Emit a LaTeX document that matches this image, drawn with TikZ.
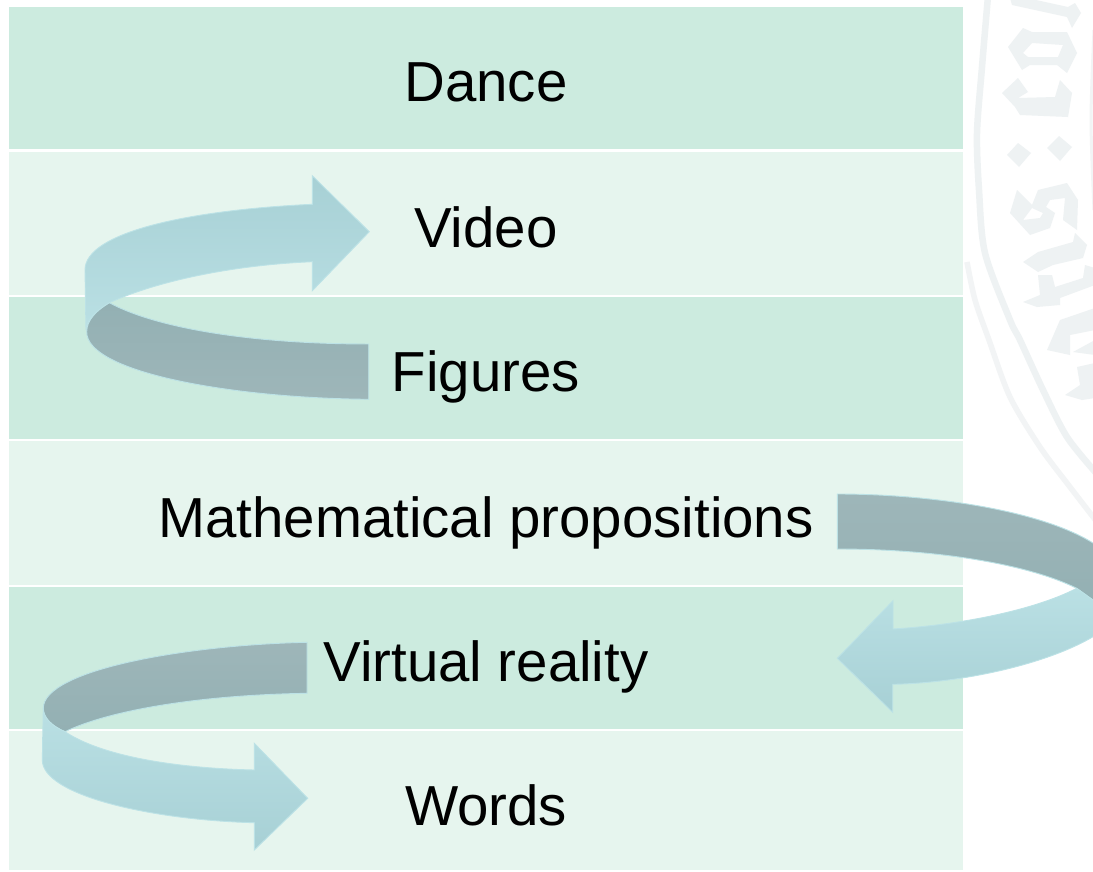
\documentclass[tikz,border=0pt]{standalone}
\usepackage{fontspec}
\setmainfont{Liberation Sans}
\definecolor{rowdark}{HTML}{CCEBDF}
\definecolor{rowlight}{HTML}{E6F5EE}
\definecolor{sealink}{HTML}{EEF2F3}
\definecolor{sealpale}{HTML}{F2F4F5}
\definecolor{ribbonedge}{HTML}{BCE2E6}
\definecolor{lightfar}{HTML}{A7D0D5}
\definecolor{lightfold}{HTML}{BAE0E4}
\definecolor{darkfar}{HTML}{9EB6B9}
\definecolor{darkfold}{HTML}{93B0B3}
\tikzset{
  rowbox/.style={draw=none,rectangle,inner sep=0pt,outer sep=0pt,anchor=north west,
    minimum width=954pt,text=black,font=\fontsize{56.4}{60}\selectfont},
  rowA/.style={rowbox,fill=rowdark},
  rowB/.style={rowbox,fill=rowlight},
  lightup/.style={draw=ribbonedge,line width=0.9pt,top color=lightfar,bottom color=lightfold},
  lightdown/.style={draw=ribbonedge,line width=0.9pt,top color=lightfold,bottom color=lightfar},
  darkdown/.style={draw=ribbonedge,line width=0.9pt,top color=darkfar,bottom color=darkfold},
  darkup/.style={draw=ribbonedge,line width=0.9pt,top color=darkfold,bottom color=darkfar},
  sealglyph/.style={fill=sealink,even odd rule},
  sealband/.style={draw=sealink,line width=6.5pt,smooth},
  sealthin/.style={draw=sealpale,line width=5.5pt,smooth}
}
\begin{document}
\begin{tikzpicture}[x=1pt,y=-1pt]
\useasboundingbox (0,0) rectangle (1093,871);
\begin{scope}
\clip (0,0) rectangle (1093,871);
\fill[white] (0,0) rectangle (1093,871);
% seal watermark
\draw[sealband] plot coordinates {(988,-4) (982,67) (977,133) (979,190) (985,253) (1010,320) (1020,340) (1043,390) (1067,437) (1097,474)};
\draw[sealthin] plot coordinates {(967,262) (975,300) (989,340) (1010,397) (1040,447) (1070,487) (1097,522)};
\draw[sealthin,line width=3pt] plot coordinates {(1094,30) (1091,120) (1094,210)};
\fill[sealglyph] (1010,-2) -- (1012,5) -- (1067,17) -- (1072,28) -- (1081,13) -- (1075,3) -- (1068,7) -- (1027,-2) -- cycle;
\fill[sealglyph] (1008,47) -- (1023,28) -- (1032,32) -- (1067,32) -- (1077,53) -- (1067,73) -- (1057,65) -- (1030,65) -- (1022,70) -- cycle
  (1023,53) -- (1032,43) -- (1063,45) -- (1058,57) -- (1028,57) -- cycle;
\fill[sealglyph] (1002,93) -- (1018,78) -- (1028,92) -- (1018,98) -- (1055,97) -- (1060,80) -- (1072,93) -- (1068,117) -- (1020,115) -- (1015,107) -- cycle;
\fill[sealglyph] (1007,155) -- (1018,143) -- (1031,153) -- (1019,167) -- cycle;
\fill[sealglyph] (1047,148) -- (1059,136) -- (1072,147) -- (1060,161) -- cycle;
\fill[sealglyph] (1010,213) -- (1017,190) -- (1032,205) -- (1038,190) -- (1067,183) -- (1078,200) -- (1077,230) -- (1063,220) -- (1065,198) -- (1050,200) -- (1046,207) -- (1055,213) -- (1050,228) -- (1030,235) -- cycle
  (1023,220) -- (1032,208) -- (1043,213) -- (1040,218) -- cycle;
\fill[sealglyph] (1023,262) -- (1038,252) -- (1073,242) -- (1075,233) -- (1087,245) -- (1083,258) -- (1053,265) -- (1038,272) -- cycle;
\fill[sealglyph] (1038,275) -- (1052,275) -- (1055,287) -- (1083,278) -- (1085,265) -- (1095,268) -- (1095,285) -- (1060,298) -- (1060,305) -- (1037,307) -- (1023,302) -- (1040,295) -- cycle;
\fill[sealglyph] (1047,350) -- (1060,320) -- (1095,308) -- (1095,330) -- (1070,335) -- (1070,355) -- cycle;
\fill[sealglyph] (1073,352) -- (1095,340) -- (1095,355) -- cycle;
\fill[sealglyph] (1077,367) -- (1095,363) -- (1095,398) -- (1082,400) -- (1065,395) -- (1080,385) -- cycle;
% rows
\node[rowA,minimum height=142pt,text height=94pt,text depth=48pt] (dance) at (9,7) {Dance};
\node[rowB,minimum height=143pt,text height=95pt,text depth=48pt] (video) at (9,152) {Video};
\node[rowA,minimum height=142pt,text height=94pt,text depth=48pt] (figures) at (9,297) {Figures};
\node[rowB,minimum height=144pt,text height=96pt,text depth=48pt] (math) at (9,441) {Mathematical propositions};
\node[rowA,minimum height=142pt,text height=94pt,text depth=48pt] (virtual) at (9,587) {Virtual reality};
\node[rowB,minimum height=139pt,text height=94pt,text depth=45pt] (words) at (9,731) {Words};
% ribbon: Figures to Video
\path[darkup] (109.3,302.7) .. controls (160,330) and (260,344) .. (368.7,344) -- (368.7,399.3)
  .. controls (230,398) and (86,372) .. (86.7,331.7) .. controls (86.7,320) and (97,310) .. (109.3,302.7) -- cycle;
\path[lightup] (369.3,231.7) -- (312.3,175.7) -- (312.3,204.3) .. controls (190,210) and (85,232) .. (85,270)
  -- (86,330) .. controls (86,320) and (97,310) .. (109.3,302.7)
  .. controls (160,280) and (235,265) .. (312.3,261.7) -- (312.3,290.7) -- cycle;
% ribbon: Mathematical propositions to Virtual reality
\path[darkdown] (837.3,494) .. controls (930,494) and (1040,510) .. (1093,543) -- (1102,552) -- (1102,607) -- (1093,600)
  -- (1076.7,588.3) .. controls (1030,565) and (940,549) .. (837.3,549) -- cycle;
\path[lightdown] (1076.7,588.3) -- (1093,600) -- (1102,610) -- (1102,630) -- (1093,636.7)
  .. controls (1045,665) and (960,683) .. (892.7,684.3) -- (892.7,712.3) -- (837.3,658.3) -- (893,600.7) -- (893,629)
  .. controls (960,625) and (1035,610) .. (1076.7,588.3) -- cycle;
% ribbon: Virtual reality to Words
\path[darkdown] (307,642.3) .. controls (185,645) and (43.3,670) .. (43.3,708.3)
  .. controls (43.3,718) and (52,726) .. (65,731.7) .. controls (110,710) and (200,695) .. (307,693.3) -- cycle;
\path[lightdown] (43.3,708.3) .. controls (43.3,718) and (52,726) .. (65,731.7)
  .. controls (100,755) and (170,768) .. (254.3,770) -- (254.3,743.3) -- (307.7,798.3) -- (254.3,850) -- (254.3,822.7)
  .. controls (150,820) and (42.3,795) .. (42.3,760) -- cycle;
\end{scope}
\end{tikzpicture}
\end{document}
